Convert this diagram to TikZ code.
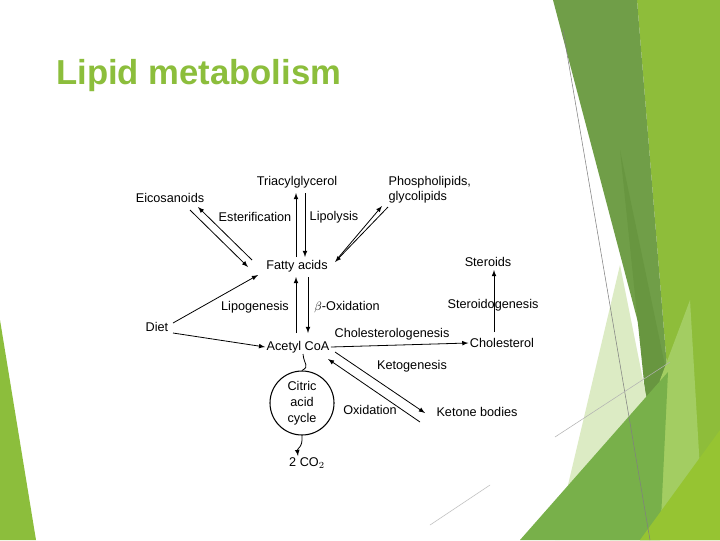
\documentclass[tikz,border=0pt]{standalone}
\usepackage{fontspec}
\setmainfont{Liberation Sans}
\definecolor{gA}{RGB}{142,189,58}
\definecolor{gB}{RGB}{112,158,72}
\definecolor{gC}{RGB}{104,150,64}
\definecolor{gD}{RGB}{220,235,196}
\definecolor{gE}{RGB}{163,205,98}
\definecolor{gF}{RGB}{120,176,74}
\definecolor{gG}{RGB}{150,196,50}
\definecolor{gT}{RGB}{140,190,60}
\begin{document}
\begin{tikzpicture}[x=0.75pt,y=-0.75pt,
  lbl/.style={inner sep=1pt,font=\fontsize{9.5}{11}\selectfont},
  arr/.style={-latex,line width=0.6pt}]
\useasboundingbox (0,0) rectangle (720,540);
% background decorations
\fill[white] (0,0) rectangle (720,540);
\fill[gA] (637,0) -- (720,0) -- (720,540) -- (610,540) -- (668,380) -- cycle;
\fill[gB] (553,0) -- (637,0) -- (668,380) -- (662,430) -- (640,330) -- cycle;
\fill[gC] (620,150) -- (668,380) -- (662,430) -- (650,440) -- cycle;
\fill[gD] (620,265) -- (655,440) -- (560,540) -- (555,540) -- cycle;
\fill[gE] (660,380) -- (690,300) -- (700,470) -- (670,540) -- (640,540) -- cycle;
\fill[gF] (520,540) -- (668,372) -- (660,540) -- cycle;
\fill[gG] (640,540) -- (720,430) -- (720,540) -- cycle;
\fill[gT] (0,320) -- (36,540) -- (0,540) -- cycle;
\draw[gray,line width=0.4pt] (563,30) -- (650,540);
\draw[gray!60,line width=0.4pt] (555,437) -- (670,362);
\draw[gray!50,line width=0.4pt] (430,525) -- (490,485);
% title
\node[anchor=west,inner sep=0pt,text=gT] (title) at (56,76)
  {\fontsize{26}{30}\selectfont\bfseries Lipid metabolism};
% nodes
\node[lbl] (tag) at (297,182) {Triacylglycerol};
\node[lbl] (eic) at (170,198) {Eicosanoids};
\node[lbl,align=left,anchor=west] (pho) at (387,190) {Phospholipids,\\glycolipids};
\node[lbl] (est) at (255,217) {Esterification};
\node[lbl] (lys) at (334,217) {Lipolysis};
\node[lbl] (fa) at (297,266) {Fatty acids};
\node[lbl] (ster) at (488,262) {Steroids};
\node[lbl] (lipg) at (255,307) {Lipogenesis};
\node[lbl] (box) at (347,307) {$\beta$-Oxidation};
\node[lbl] (sg) at (493,305) {Steroidogenesis};
\node[lbl] (diet) at (157,327) {Diet};
\node[lbl] (clg) at (392,334) {Cholesterologenesis};
\node[lbl] (acoa) at (298,347) {Acetyl CoA};
\node[lbl] (chol) at (502,343) {Cholesterol};
\node[lbl] (ketg) at (412,366) {Ketogenesis};
\node[draw,circle,line width=0.8pt,minimum size=48pt,inner sep=0pt,align=center,font=\fontsize{9.5}{12}\selectfont] (cac) at (302,403) {Citric\\acid\\cycle};
\node[lbl] (oxi) at (370,410) {Oxidation};
\node[lbl] (kb) at (477,412) {Ketone bodies};
\node[lbl] (co2) at (307,463) {2 CO$_2$};
% connectors
\coordinate (e1) at (190,210); \coordinate (e2) at (248,267);
\coordinate (e3) at (252,260); \coordinate (e4) at (198,207);
\draw[arr] (e1) -- (e2);
\draw[arr] (e3) -- (e4);
\draw[arr] (296,257) -- (296,193);
\draw[arr] (305,193) -- (305,257);
\coordinate (p1) at (388,207); \coordinate (p2) at (335,262);
\draw[arr] (p1) -- (p2);
\draw[arr] (338,258) -- (382,206);
\draw[arr] (296,333) -- (296,277);
\draw[arr] (308,277) -- (308,333);
\draw[arr] (173,323) -- (258,275);
\draw[arr] (173,333) -- (acoa.west);
\draw[arr] (acoa.east) -- (chol.west);
\draw[arr] (494,332) -- (494,270);
\draw[arr] (335,352) -- (425,413);
\draw[arr] (420,422) -- (328,359);
\draw[line width=0.6pt] (303,354) .. controls (304,365) and (310,366) .. (cac.north);
\draw[arr] (cac.south) .. controls (303,448) and (297,448) .. (298,456);
\end{tikzpicture}
\end{document}
